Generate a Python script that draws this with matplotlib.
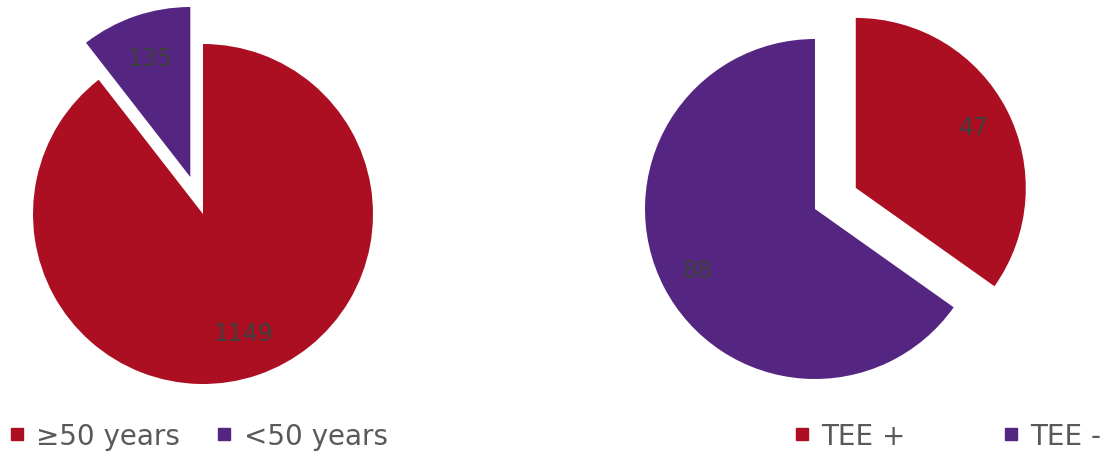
import matplotlib
matplotlib.use("Agg")
import matplotlib.pyplot as plt
from matplotlib.lines import Line2D

# Data
age_labels = ["\u226550 years", "<50 years"]
age_values = [1149, 135]
tee_labels = ["TEE +", "TEE -"]
tee_values = [47, 88]

RED = "#AC0F22"
PURPLE = "#552681"
TXT = "#404040"
LEG = "#595959"

W, H = 1103, 452
fig = plt.figure(figsize=(W / 100, H / 100), dpi=100)

R = 170.0
half = 200.0


def make_ax(cx, cy):
    return fig.add_axes([(cx - half) / W, (H - cy - half) / H, 2 * half / W, 2 * half / H])


def finish(ax):
    lim = half / R
    ax.set_xlim(-lim, lim)
    ax.set_ylim(-lim, lim)
    ax.set_aspect("equal")
    ax.axis("off")


ax1 = make_ax(203, 215)
w1, t1 = ax1.pie(age_values, colors=[RED, PURPLE], startangle=90, counterclock=False,
                 explode=[0, 0.23], radius=1, labels=[str(v) for v in age_values],
                 labeldistance=0.74, textprops=dict(color=TXT, fontsize=17))
for t in t1:
    t.set_ha("center"); t.set_va("center")
finish(ax1)

ax2 = make_ax(815, 210)
w2, t2 = ax2.pie(tee_values, colors=[RED, PURPLE], startangle=90, counterclock=False,
                 explode=[0.27, 0], radius=1, labels=[str(v) for v in tee_values],
                 labeldistance=0.78, textprops=dict(color=TXT, fontsize=17))
for t in t2:
    t.set_ha("center"); t.set_va("center")
finish(ax2)


def handles(labels):
    return [Line2D([], [], marker="s", linestyle="none", markersize=8,
                   markerfacecolor=c, markeredgecolor=c, label=l)
            for c, l in zip([RED, PURPLE], labels)]


fig.legend(handles=handles(age_labels), loc="center left", bbox_to_anchor=(0.0, 1 - 437 / H),
           ncol=2, frameon=False, fontsize=20, labelcolor=LEG, handlelength=0.6,
           handletextpad=0.4, columnspacing=1.3, borderaxespad=0, borderpad=0.3)
fig.legend(handles=handles(tee_labels), loc="center left", bbox_to_anchor=(785 / W, 1 - 437 / H),
           ncol=2, frameon=False, fontsize=20, labelcolor=LEG, handlelength=0.6,
           handletextpad=0.4, columnspacing=3.5, borderaxespad=0, borderpad=0.3)

fig.savefig("out.png", dpi=100)
